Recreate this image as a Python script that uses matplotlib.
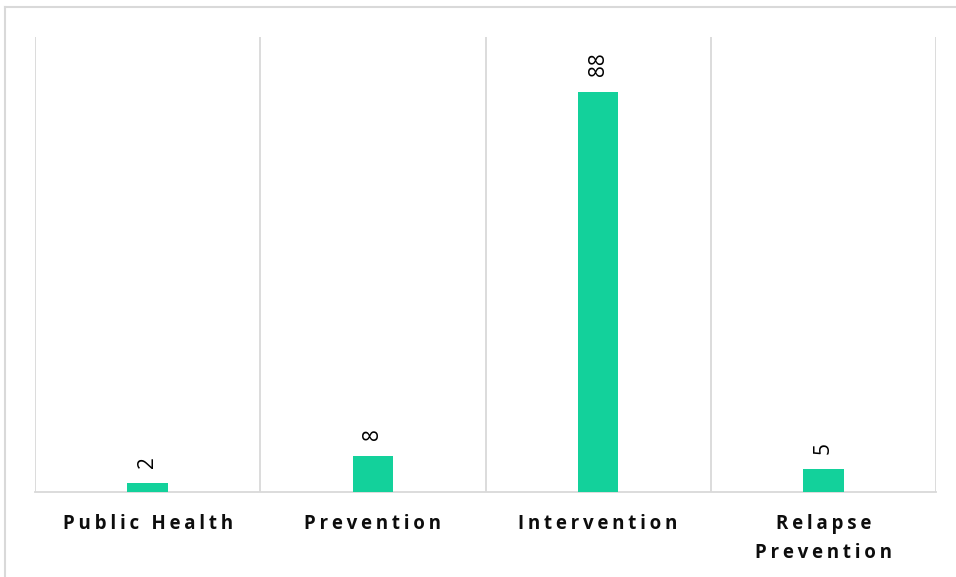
import numpy as np
import matplotlib.pyplot as plt
from matplotlib.lines import Line2D

categories = ["Public Health", "Prevention", "Intervention", "Relapse\nPrevention"]
counts = [2, 8, 88, 5]

bar_color = "#13D19B"
grid_color = "#D9D9D9"

def spaced(s):
    # fake letter spacing with thin spaces
    return "\n".join("\u2009".join(line) for line in s.split("\n"))

fig = plt.figure(figsize=(9.56, 5.77), dpi=100)
ax = fig.add_axes([35 / 956, (577 - 492) / 577, (936 - 35) / 956, (492 - 37) / 577])

x = np.arange(len(categories))
bars = ax.bar(x, counts, width=0.18, color=bar_color, zorder=3)

for xi, v in zip(x, counts):
    ax.annotate(str(v), (xi, v), xytext=(0, 11), textcoords="offset points",
                rotation=90, ha="center", va="bottom", fontsize=15,
                family=["Open Sans", "DejaVu Sans"], color="#000000")

ax.set_xlim(-0.5, len(categories) - 0.5)
ax.set_ylim(0, 100)

# category separators
for b in np.arange(-0.5, len(categories), 1.0):
    ax.axvline(b, color=grid_color, lw=1.3, zorder=1)

for s in ["top", "left", "right"]:
    ax.spines[s].set_visible(False)
ax.spines["bottom"].set_color(grid_color)
ax.spines["bottom"].set_linewidth(1.3)

ax.set_yticks([])
ax.set_xticks(x)
ax.set_xticklabels([spaced(c) for c in categories], fontsize=13.5, fontweight="bold",
                   family=["Open Sans", "DejaVu Sans"], color="#0D0D0D",
                   linespacing=1.6, va="top")
ax.tick_params(axis="x", length=0, pad=16)

# outer chart border (only top/left visible in the frame)
fig.add_artist(Line2D([5 / 956, 1.0], [1 - 7 / 577, 1 - 7 / 577], color=grid_color,
                      lw=1.5, transform=fig.transFigure))
fig.add_artist(Line2D([5 / 956, 5 / 956], [0, 1 - 7 / 577], color=grid_color,
                      lw=1.5, transform=fig.transFigure))

fig.savefig("out.png", dpi=100)
